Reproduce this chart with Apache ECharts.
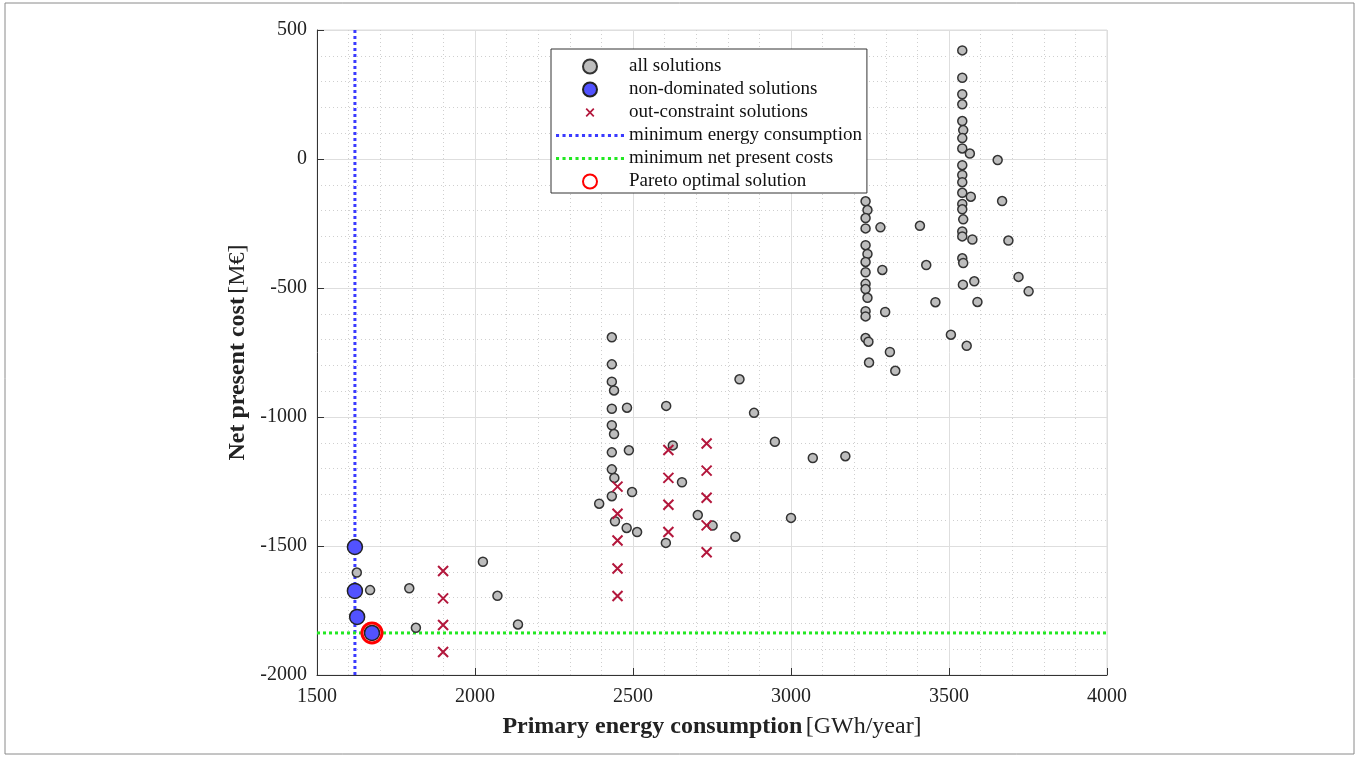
<!DOCTYPE html>
<html>
<head>
<meta charset="utf-8">
<script src="https://cdn.jsdelivr.net/npm/echarts@6/dist/echarts.min.js"></script>
<style>
html,body{margin:0;padding:0;background:#fff;}
#chart{width:1359px;height:759px;}
</style>
</head>
<body>
<div id="chart"></div>
<script>
// ---- data ----
const allSolutions = [
  [1626,-1603],[1668,-1671],[1792,-1664],[1813,-1817],[2025,-1561],[2071,-1693],[2136,-1804],
  [2433,-691],[2433,-796],[2433,-863],[2440,-897],[2433,-968],[2433,-1032],[2440,-1066],
  [2433,-1137],[2433,-1203],[2441,-1236],[2433,-1307],[2443,-1404],
  [2481,-964],[2605,-957],[2837,-854],[2883,-984],[2626,-1110],[2949,-1096],[3069,-1159],
  [3172,-1152],[2487,-1129],[2655,-1253],[2497,-1291],[2393,-1336],[2705,-1380],[3000,-1391],
  [2752,-1421],[2480,-1430],[2513,-1446],[2824,-1464],[2604,-1488],
  [3236,-164],[3242,-198],[3236,-229],[3236,-269],[3283,-265],[3408,-259],[3236,-334],
  [3242,-368],[3236,-399],[3289,-430],[3428,-411],[3236,-439],[3236,-484],[3236,-504],
  [3242,-538],[3457,-555],[3236,-590],[3236,-610],[3298,-593],[3236,-694],[3245,-708],
  [3506,-681],[3313,-748],[3556,-724],[3247,-789],[3330,-821],
  [3542,421],[3542,315],[3542,251],[3542,212],[3542,147],[3545,112],[3542,81],[3542,41],
  [3566,21],[3654,-4],[3542,-24],[3542,-62],[3542,-90],[3542,-131],[3569,-146],[3668,-163],
  [3542,-174],[3542,-195],[3545,-234],[3542,-281],[3542,-300],[3574,-312],[3688,-316],
  [3542,-385],[3545,-403],[3720,-457],[3580,-474],[3544,-487],[3752,-513],[3590,-554]
];
const nonDominated = [[1620,-1504],[1620,-1674],[1627,-1775],[1674,-1837]];
const outConstraint = [
  [1899,-1597],[1899,-1703],[1899,-1806],[1899,-1911],
  [2451,-1270],[2451,-1375],[2451,-1479],[2451,-1587],[2451,-1694],
  [2612,-1128],[2612,-1236],[2612,-1340],[2612,-1446],
  [2733,-1103],[2733,-1208],[2733,-1313],[2733,-1420],[2733,-1524]
];
const paretoOptimal = [[1674,-1837]];
const minEnergy = 1620;
const minCost = -1837;
const xRange = [1500, 4000];
const yRange = [-2000, 500];
const legendNames = ['all solutions','non-dominated solutions','out-constraint solutions',
  'minimum energy consumption','minimum net present costs','Pareto optimal solution'];
const xTitle = ['Primary energy consumption', '[GWh/year]'];
const yTitle = ['Net present cost', '[M€]'];

const SERIF = '"Liberation Serif","DejaVu Serif",serif';
const chart = echarts.init(document.getElementById('chart'), null, {renderer:'canvas'});
const crossPath = 'path://M0,0L10,10M10,0L0,10';
// legend icons
let dotIcon = 'path://';
for (let i = 0; i < 11; i++) { const x = i * 6.3; dotIcon += 'M' + x + ',0h3v3h-3z'; }
const crossIcon = 'path://M0,0M14,14M2.6,3.8L3.8,2.6L7,5.8L10.2,2.6L11.4,3.8L8.2,7L11.4,10.2L10.2,11.4L7,8.2L3.8,11.4L2.6,10.2L5.8,7Z';
const dotted = [3,3];
const plain = v => String(v);

chart.setOption({
  animation:false,
  backgroundColor:'#fff',
  graphic:[{type:'rect', shape:{x:5,y:3,width:1349,height:751}, style:{fill:'none',stroke:'#8a8a8a',lineWidth:1}, silent:true, z:-10}],
  grid:{left:317, right:252, top:30, bottom:84, show:true, borderColor:'#dcdcdc', borderWidth:1},
  legend:{
    data:[
      {name:legendNames[0], icon:'circle'},
      {name:legendNames[1], icon:'circle'},
      {name:legendNames[2], icon:crossIcon, itemStyle:{color:'#b3173c', borderWidth:0}},
      {name:legendNames[3], icon:dotIcon, itemStyle:{color:'#3a3aff', borderWidth:0}},
      {name:legendNames[4], icon:dotIcon, itemStyle:{color:'#22e822', borderWidth:0}},
      {name:legendNames[5], icon:'circle'}
    ],
    orient:'vertical', left:551, top:49,
    itemWidth:68, itemHeight:14, itemGap:4,
    padding:[8,5,2,5],
    backgroundColor:'#fff', borderColor:'#333', borderWidth:1,
    textStyle:{fontFamily:SERIF, fontSize:19, lineHeight:19, color:'#111'},
    selectedMode:false
  },
  xAxis:{
    type:'value', min:xRange[0], max:xRange[1], interval:500,
    name:'{b|'+xTitle[0]+'} {n|'+xTitle[1]+'}', nameLocation:'middle', nameGap:40,
    nameTextStyle:{rich:{b:{fontFamily:SERIF,fontSize:24,fontWeight:'bold',color:'#222'},n:{fontFamily:SERIF,fontSize:24,color:'#222'}}},
    axisLine:{show:true,onZero:false,lineStyle:{color:'#333',width:1}},
    axisTick:{show:true,inside:true,length:7,lineStyle:{color:'#333'}},
    axisLabel:{fontFamily:SERIF,fontSize:20,color:'#222',margin:12,formatter:plain},
    splitLine:{show:true,lineStyle:{color:'#dedede',width:1}},
    minorTick:{show:false,splitNumber:5},
    minorSplitLine:{show:true,lineStyle:{color:'#cfcfcf',type:[1,3],width:1}}
  },
  yAxis:{
    type:'value', min:yRange[0], max:yRange[1], interval:500,
    name:'{b|'+yTitle[0]+'} {n|'+yTitle[1]+'}', nameLocation:'middle', nameGap:64, nameRotate:90,
    nameTextStyle:{rich:{b:{fontFamily:SERIF,fontSize:24,fontWeight:'bold',color:'#222'},n:{fontFamily:SERIF,fontSize:24,color:'#222'}}},
    axisLine:{show:true,onZero:false,lineStyle:{color:'#333',width:1}},
    axisTick:{show:true,inside:true,length:7,lineStyle:{color:'#333'}},
    axisLabel:{fontFamily:SERIF,fontSize:20,color:'#222',margin:10,formatter:plain},
    splitLine:{show:true,lineStyle:{color:'#dedede',width:1}},
    minorTick:{show:false,splitNumber:5},
    minorSplitLine:{show:true,lineStyle:{color:'#cfcfcf',type:[1,3],width:1}}
  },
  series:[
    {name:legendNames[3], type:'line', symbol:'none', z:3,
     data:[[minEnergy,yRange[0]],[minEnergy,yRange[1]]],
     lineStyle:{color:'#3a3aff',width:3,type:dotted}, itemStyle:{color:'#3a3aff'}},
    {name:legendNames[4], type:'line', symbol:'none', z:3,
     data:[[xRange[0],minCost],[xRange[1],minCost]],
     lineStyle:{color:'#22e822',width:3,type:dotted}, itemStyle:{color:'#22e822'}},
    {name:legendNames[0], type:'scatter', symbol:'circle', symbolSize:9, z:4,
     data:allSolutions,
     itemStyle:{color:'#bdbdbd',borderColor:'#333',borderWidth:1.5,opacity:1}},
    {name:legendNames[2], type:'scatter', symbol:crossPath, symbolSize:10, z:4,
     data:outConstraint,
     itemStyle:{color:'#b3173c',borderColor:'#b3173c',borderWidth:2,opacity:1}},
    {name:legendNames[1], type:'scatter', symbol:'circle', symbolSize:15, z:5,
     data:nonDominated,
     itemStyle:{color:'#5252ff',borderColor:'#222',borderWidth:1.5,opacity:1}},
    {name:legendNames[5], type:'scatter', symbol:'circle', symbolSize:20, z:6,
     data:paretoOptimal,
     itemStyle:{color:'rgba(0,0,0,0)',borderColor:'#ff0000',borderWidth:3,opacity:1}}
  ]
});
</script>
</body>
</html>
